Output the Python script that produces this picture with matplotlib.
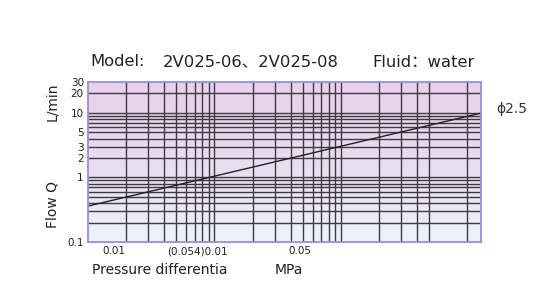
import matplotlib
matplotlib.use("Agg")
import matplotlib.pyplot as plt
import numpy as np

plt.rcParams['font.family'] = ['DejaVu Sans', 'Noto Sans CJK SC']

# flow curve for the 2.5 orifice (MPa -> L/min)
pressure = [0.001, 1.28]
flow = [0.36, 9.9]
curve_label = "ϕ2.5"

# grid lines as drawn on the chart
x_grid = [0.002, 0.003, 0.004, 0.005, 0.006, 0.007, 0.008, 0.009, 0.01,
          0.02, 0.03, 0.04, 0.05, 0.06, 0.07, 0.08, 0.09, 0.1,
          0.2, 0.3, 0.4, 0.5, 1.0]
y_grid = [0.2, 0.3, 0.4, 0.5, 0.6, 0.7, 0.8, 0.9, 1,
          2, 3, 4, 5, 6, 7, 8, 9, 10, 20]

x_ticks = [0.0016, 0.0073, 0.047]
x_ticklabels = ["0.01", "(0.054)0.01", "0.05"]
y_ticks = [0.1, 1, 2, 3, 5, 10, 20, 30]
y_ticklabels = ["0.1", "1", "2", "3", "5", "10", "20", "30"]

title_parts = ["Model:", "2V025-06、2V025-08", "Fluid：water"]


def draw():
    fig = plt.figure(figsize=(5.5, 3), dpi=100)
    ax = fig.add_axes([88 / 550, 1 - 242 / 300, 393 / 550, 160 / 300])
    ax.set_xscale('log')
    ax.set_yscale('log')
    ax.set_xlim(0.001, 1.28)
    ax.set_ylim(0.1, 30)

    # pink to pale blue background
    top = np.array([232, 210, 235]) / 255
    bot = np.array([236, 243, 251]) / 255
    t = np.linspace(0, 1, 200)[:, None] ** 1.6
    grad = (top * (1 - t) + bot * t)[:, None, :]
    ax.imshow(grad, extent=[0, 1, 0, 1], transform=ax.transAxes,
              aspect='auto', zorder=0)

    for xv in x_grid:
        ax.axvline(xv, color='#3f3a42', lw=1.0, zorder=1)
    for yv in y_grid:
        ax.axhline(yv, color='#3f3a42', lw=1.0, zorder=1)

    ax.plot(pressure, flow, color='#222222', lw=1.0, zorder=2)
    ax.text(1.04, 0.83, curve_label, transform=ax.transAxes,
            fontsize=10, color='#333333', va='center', ha='left')

    ax.xaxis.set_minor_locator(matplotlib.ticker.NullLocator())
    ax.yaxis.set_minor_locator(matplotlib.ticker.NullLocator())
    ax.set_xticks(x_ticks)
    ax.set_xticklabels(x_ticklabels, fontsize=7.5)
    ax.set_yticks(y_ticks)
    ax.set_yticklabels(y_ticklabels, fontsize=7.5)
    ax.tick_params(length=0, pad=3, colors='#222222')
    for s in ax.spines.values():
        s.set_color('#9d8fcf')
        s.set_linewidth(1.3)
        s.set_zorder(3)

    fig.text(52 / 550, 1 - 205 / 300, "Flow Q", rotation=90, fontsize=10,
             va='center', ha='center', color='#222222')
    fig.text(52 / 550, 1 - 102 / 300, "L/min", rotation=90, fontsize=10,
             va='center', ha='center', color='#222222')
    fig.text(92 / 550, 1 - 270 / 300, "Pressure differentia", fontsize=10,
             va='center', ha='left', color='#222222')
    fig.text(275 / 550, 1 - 270 / 300, "MPa", fontsize=10,
             va='center', ha='left', color='#222222')

    # title is spread out wider than one plain string
    for x0, part in zip([90, 163, 372], title_parts):
        fig.text(x0 / 550, 1 - 62 / 300, part, fontsize=11.8, va='center',
                 ha='left', color='#222222')

    fig.savefig("out.png", dpi=100, facecolor='white')
    plt.close(fig)


if __name__ == "__main__":
    draw()
